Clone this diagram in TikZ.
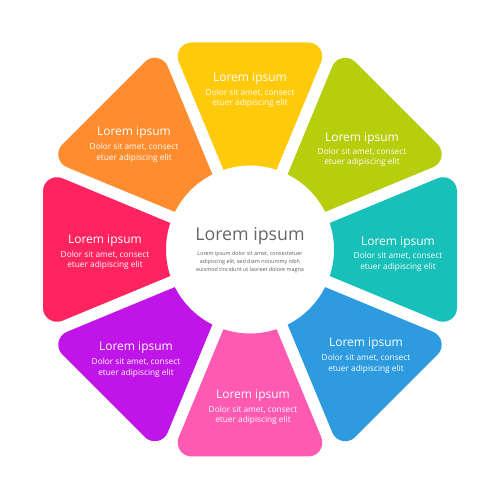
\documentclass[tikz,border=0pt]{standalone}
\usepackage{fontspec}
\setmainfont{Open Sans}
\usetikzlibrary{calc}
\definecolor{cyel}{HTML}{FFCA0A}
\definecolor{cgrn}{HTML}{B6CE0C}
\definecolor{ctea}{HTML}{17C0B8}
\definecolor{cblu}{HTML}{2E9BE0}
\definecolor{cpnk}{HTML}{FF5AB2}
\definecolor{cpur}{HTML}{C015E8}
\definecolor{cred}{HTML}{FF2460}
\definecolor{corg}{HTML}{FF8C2E}
\definecolor{ctxt}{HTML}{666666}
\newcommand\octseg[2]{%
\begin{scope}[shift={(250,250.5)},rotate=#1]
\coordinate (IR) at (26.52,79.71);
\coordinate (OR) at (79.25,207);
\coordinate (OL) at (-79.25,207);
\coordinate (IL) at (-26.52,79.71);
\coordinate (a1) at ($(OR)!21pt!(IR)$);
\coordinate (a2) at ($(OR)!21pt!(OL)$);
\coordinate (b1) at ($(OL)!21pt!(OR)$);
\coordinate (b2) at ($(OL)!21pt!(IL)$);
\fill[#2] (IR) -- (a1) .. controls ($(a1)!0.48!(OR)$) and ($(a2)!0.48!(OR)$) .. (a2)
  -- (b1) .. controls ($(b1)!0.48!(OL)$) and ($(b2)!0.48!(OL)$) .. (b2)
  -- (IL) arc[start angle=108.43,end angle=71.57,radius=84] -- cycle;
\end{scope}}
\tikzset{
  segtitle/.style={text=white,font=\fontsize{12}{14}\selectfont,inner sep=0pt},
  segsub/.style={text=white,font=\fontsize{8.3}{10.4}\selectfont,align=center,inner sep=0pt},
  ctitle/.style={text=ctxt,font=\fontsize{17.8}{20}\selectfont,inner sep=0pt},
  csub/.style={text=ctxt!90!black,font=\fontsize{5.4}{8}\selectfont,align=center,inner sep=0pt}
}
\begin{document}
\begin{tikzpicture}[x=1pt,y=1pt]
\fill[white] (0,0) rectangle (500,500);
\useasboundingbox (0,0) rectangle (500,500);
\octseg{0}{cyel}
\octseg{-45}{cgrn}
\octseg{-90}{ctea}
\octseg{-135}{cblu}
\octseg{180}{cpnk}
\octseg{135}{cpur}
\octseg{90}{cred}
\octseg{45}{corg}
% yellow
\node[segtitle] (t1) at (250,421.5) {Lorem ipsum};
\node[segsub] (s1) at (250,401.5) {Dolor sit amet, consect\\etuer adipiscing elit};
% green
\node[segtitle] (t2) at (362,361.5) {Lorem ipsum};
\node[segsub] (s2) at (362,342.5) {Dolor sit amet, consect\\etuer adipiscing elit};
% teal
\node[segtitle] (t3) at (398,257.5) {Lorem ipsum};
\node[segsub] (s3) at (398,238) {Dolor sit amet, consect\\etuer adipiscing elit};
% blue
\node[segtitle] (t4) at (366,156.5) {Lorem ipsum};
\node[segsub] (s4) at (366,136) {Dolor sit amet, consect\\etuer adipiscing elit};
% pink
\node[segtitle] (t5) at (253,104.5) {Lorem ipsum};
\node[segsub] (s5) at (253,84.5) {Dolor sit amet, consect\\etuer adipiscing elit};
% purple
\node[segtitle] (t6) at (136,152.5) {Lorem ipsum};
\node[segsub] (s6) at (136,132) {Dolor sit amet, consect\\etuer adipiscing elit};
% red
\node[segtitle] (t7) at (105,259.5) {Lorem ipsum};
\node[segsub] (s7) at (105,239.8) {Dolor sit amet, consect\\etuer adipiscing elit};
% orange
\node[segtitle] (t8) at (134,367.5) {Lorem ipsum};
\node[segsub] (s8) at (134,347) {Dolor sit amet, consect\\etuer adipiscing elit};
% center
\node[ctitle] (ct) at (250,263.5) {Lorem ipsum};
\node[csub] (cs) at (250,238) {Lorem ipsum dolor sit amet, consectetuer\\adipiscing elit, sed diam nonummy nibh\\euismod tincidunt ut laoreet dolore magna};
\end{tikzpicture}
\end{document}
